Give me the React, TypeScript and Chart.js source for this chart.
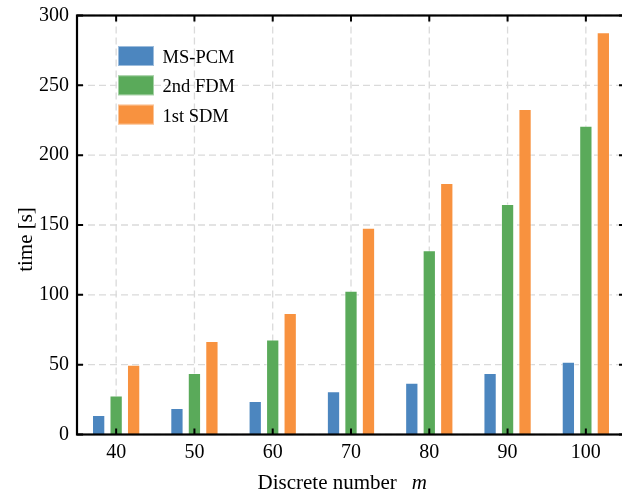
import React, { useEffect, useRef } from "react";
import { Chart, registerables } from "chart.js";

Chart.register(...registerables);

const categories = ["40", "50", "60", "70", "80", "90", "100"];
const msPcm = [14, 19, 24, 31, 37, 44, 52];
const fdm2nd = [28, 44, 68, 103, 132, 165, 221];
const sdm1st = [50, 67, 87, 148, 180, 233, 288];
const seriesNames = ["MS-PCM", "2nd FDM", "1st SDM"];
const seriesColors = ["#4C86BF", "#5AAA5A", "#F8923F"];
const yMin = 0;
const yMax = 300;
const yStep = 50;
const xTitle = "Discrete number";
const xTitleVar = "m";
const yTitle = "time [s]";

const SERIF = "'Liberation Serif', 'Times New Roman', serif";

const decorPlugin = {
  id: "decor",
  beforeDatasetsDraw(chart: any) {
    const { ctx, chartArea: a, scales } = chart;
    const x = scales.x;
    const y = scales.y;
    ctx.save();
    ctx.strokeStyle = "#dadada";
    ctx.lineWidth = 1.3;
    ctx.setLineDash([7, 4]);
    for (let i = 0; i < x.ticks.length; i++) {
      const px = x.getPixelForTick(i);
      ctx.beginPath();
      ctx.moveTo(px, a.top);
      ctx.lineTo(px, a.bottom);
      ctx.stroke();
    }
    for (let i = 0; i < y.ticks.length; i++) {
      const py = y.getPixelForTick(i);
      ctx.beginPath();
      ctx.moveTo(a.left, py);
      ctx.lineTo(a.right, py);
      ctx.stroke();
    }
    ctx.restore();
  },
  afterDatasetsDraw(chart: any) {
    const { ctx, chartArea: a, scales } = chart;
    const x = scales.x;
    const y = scales.y;
    ctx.save();
    ctx.setLineDash([]);
    ctx.strokeStyle = "#000";
    // ticks
    ctx.lineWidth = 2;
    const tl = 6;
    for (let i = 0; i < x.ticks.length; i++) {
      const px = x.getPixelForTick(i);
      ctx.beginPath();
      ctx.moveTo(px, a.bottom);
      ctx.lineTo(px, a.bottom - tl);
      ctx.moveTo(px, a.top);
      ctx.lineTo(px, a.top + tl);
      ctx.stroke();
    }
    for (let i = 0; i < y.ticks.length; i++) {
      const py = y.getPixelForTick(i);
      ctx.beginPath();
      ctx.moveTo(a.left, py);
      ctx.lineTo(a.left + tl, py);
      ctx.moveTo(a.right, py);
      ctx.lineTo(a.right - tl, py);
      ctx.stroke();
    }
    // frame
    ctx.lineWidth = 2.2;
    ctx.strokeRect(a.left, a.top, a.right - a.left, a.bottom - a.top);

    // legend
    const lx = a.left + 41;
    const ly0 = a.top + 40.5;
    const rowH = 29.3;
    ctx.font = `18.5px ${SERIF}`;
    ctx.textAlign = "left";
    ctx.textBaseline = "alphabetic";
    chart.data.datasets.forEach((ds: any, i: number) => {
      const cy = ly0 + i * rowH;
      ctx.fillStyle = ds.backgroundColor;
      ctx.fillRect(lx, cy - 10, 36, 20);
      ctx.strokeStyle = "rgba(255,255,255,0.45)";
      ctx.lineWidth = 1;
      ctx.strokeRect(lx + 0.5, cy - 9.5, 35, 19);
      ctx.fillStyle = "#000";
      ctx.fillText(ds.label, lx + 44.5, cy + 7);
    });

    // x title
    ctx.fillStyle = "#000";
    ctx.font = `21px ${SERIF}`;
    const cx = (a.left + a.right) / 2;
    const tx = cx - 93.5;
    ctx.fillText(xTitle, tx, 489);
    const w = ctx.measureText(xTitle).width;
    ctx.font = `italic 21px ${SERIF}`;
    ctx.fillText(xTitleVar, tx + w + 15, 489);

    // y title
    ctx.font = `21px ${SERIF}`;
    ctx.save();
    ctx.translate(32, 239.5);
    ctx.rotate(-Math.PI / 2);
    ctx.textAlign = "center";
    ctx.fillText(yTitle, 0, 0);
    ctx.restore();
    ctx.restore();
  },
};

export default function App() {
  const ref = useRef<HTMLCanvasElement | null>(null);
  useEffect(() => {
    document.body.style.margin = "0";
    const canvas = ref.current!;
    const datasets = [msPcm, fdm2nd, sdm1st].map((d, i) => ({
      label: seriesNames[i],
      data: d,
      backgroundColor: seriesColors[i],
      borderColor: "rgba(255,255,255,0.5)",
      borderWidth: 1,
      borderSkipped: "bottom" as const,
      barPercentage: 0.76,
      categoryPercentage: 0.67,
    }));
    const chart = new Chart(canvas, {
      type: "bar",
      data: { labels: categories, datasets },
      options: {
        responsive: false,
        animation: false,
        devicePixelRatio: 1,
        layout: { padding: { top: 15.5, right: 2, left: 0, bottom: 0 } },
        plugins: { legend: { display: false }, tooltip: { enabled: false } },
        scales: {
          x: {
            grid: { display: false, drawTicks: false },
            border: { display: false },
            ticks: {
              color: "#000",
              font: { family: SERIF, size: 20 },
              padding: 6,
              maxRotation: 0,
            },
            afterFit(scale: any) {
              scale.height = 61.5;
              scale.paddingLeft = 0;
              scale.paddingRight = 0;
            },
          },
          y: {
            min: yMin,
            max: yMax,
            grid: { display: false, drawTicks: false },
            border: { display: false },
            ticks: {
              stepSize: yStep,
              color: "#000",
              font: { family: SERIF, size: 20 },
              padding: 8,
            },
            afterFit(scale: any) {
              scale.width = 77;
              scale.paddingTop = 0;
              scale.paddingBottom = 0;
            },
          },
        },
      },
      plugins: [decorPlugin],
    });
    return () => chart.destroy();
  }, []);
  return (
    <div style={{ width: 622, height: 496, overflow: "hidden", position: "relative" }}>
      <canvas ref={ref} width={627} height={496} style={{ display: "block" }} />
    </div>
  );
}
